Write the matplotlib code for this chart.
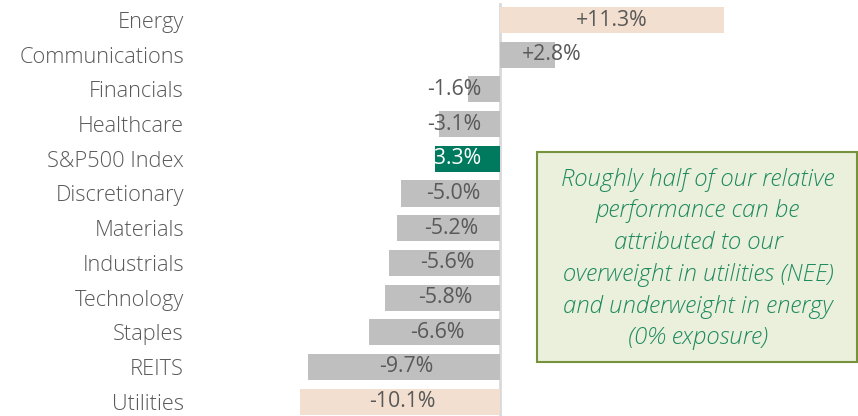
import matplotlib.pyplot as plt
from matplotlib.patches import Rectangle

# Sector relative performance, top to bottom
sectors = ["Energy", "Communications", "Financials", "Healthcare", "S&P500 Index",
           "Discretionary", "Materials", "Industrials", "Technology", "Staples",
           "REITS", "Utilities"]
returns = [11.3, 2.8, -1.6, -3.1, -3.3, -5.0, -5.2, -5.6, -5.8, -6.6, -9.7, -10.1]
labels = ["+11.3%", "+2.8%", "-1.6%", "-3.1%", "-3.3%", "-5.0%", "-5.2%",
          "-5.6%", "-5.8%", "-6.6%", "-9.7%", "-10.1%"]

note = ("Roughly half of our relative\nperformance can be\nattributed to our\n"
        "overweight in utilities (NEE)\nand underweight in energy\n(0% exposure)")

GRAY = "#bfbfbf"
PEACH = "#f2dfcf"
GREEN = "#007a5e"
TEXT = "#595959"

colors = []
for name in sectors:
    if name in ("Energy", "Utilities"):
        colors.append(PEACH)
    elif name == "S&P500 Index":
        colors.append(GREEN)
    else:
        colors.append(GRAY)

plt.rcParams["font.family"] = ["Open Sans", "DejaVu Sans"]

fig = plt.figure(figsize=(8.58, 4.16), dpi=100)
ax = fig.add_axes([195 / 858, 0, 1 - 195 / 858, 1])

y = list(range(len(sectors)))
ax.barh(y, returns, height=0.75, color=colors, zorder=2)
ax.axvline(0, ymax=0.99, color="#d9d9d9", lw=2, zorder=1)

for i, (v, lab) in enumerate(zip(returns, labels)):
    if v < 0:
        xc = min(v / 2 + 0.13, -2.3)
    else:
        xc = max(v / 2, 2.6)
    col = "white" if sectors[i] == "S&P500 Index" else TEXT
    ax.text(xc, i, lab, ha="center", va="center", fontsize=15.3, color=col, zorder=3)

ax.set_xlim(-(500 - 195) / 19.8, 358 / 19.8)
ax.set_ylim((416 - 20) / 34.7, -20 / 34.7)
ax.set_yticks(y)
ax.set_yticklabels(sectors, fontsize=15.7, color=TEXT, fontweight="light")
ax.tick_params(axis="y", length=0, pad=8)
ax.set_xticks([])
for s in ax.spines.values():
    s.set_visible(False)

fig.patches.append(Rectangle((537 / 858, 1 - 362 / 416), 320 / 858, 210 / 416,
                             transform=fig.transFigure, facecolor="#ebf0dc",
                             edgecolor="#77923c", lw=1.5))
fig.text(698 / 858, 1 - 259 / 416, note, ha="center", va="center", fontsize=17.3,
         style="italic", fontweight="light", color="#1e8a5e", linespacing=1.43)

fig.savefig("out.png", dpi=100)
